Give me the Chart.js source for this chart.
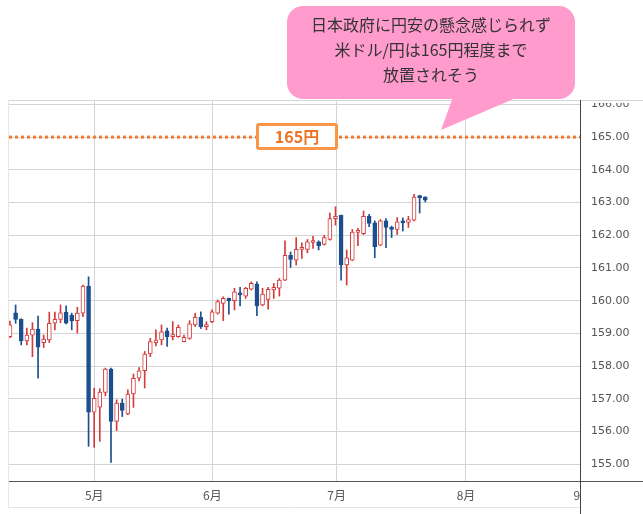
<!DOCTYPE html>
<html>
<head>
<meta charset="utf-8">
<script src="https://cdn.jsdelivr.net/npm/chart.js@4/dist/chart.umd.min.js"></script>
<style>
  html, body { margin: 0; padding: 0; background: #fff; }
  #wrap { position: relative; width: 643px; height: 514px; overflow: hidden; }
  #c { position: absolute; left: 0; top: 0; }
  #bubble { position: absolute; left: 0; top: 0; }
  #bubbleText {
    position: absolute; left: 287px; top: 12px; width: 288px;
    text-align: center; font-family: "Noto Sans CJK JP", sans-serif;
    font-size: 16px; line-height: 25px; color: #333;
  }
  #tag {
    position: absolute; left: 256px; top: 123px; width: 82px; height: 27px;
    box-sizing: border-box; border: 3px solid #f79646; border-radius: 3px;
    background: #fff; color: #ec7424; font-family: "Noto Sans CJK JP", sans-serif;
    font-weight: bold; font-size: 16px; line-height: 20px; text-align: center;
  }
</style>
</head>
<body>
<div id="wrap">
  <canvas id="c" width="643" height="514"></canvas>
  <svg id="bubble" width="643" height="514">
    <rect x="287" y="6" width="288" height="93" rx="16" ry="16" fill="#ff9bcd"/>
    <polygon points="453,97 441,130 518,97" fill="#ff9bcd"/>
  </svg>
  <div id="bubbleText">日本政府に円安の懸念感じられず<br>米ドル/円は165円程度まで<br>放置されそう</div>
  <div id="tag">165円</div>
</div>
<script>
// ---- data (USD/JPY daily candles) ----
const opens  = [158.90,159.63,159.43,158.77,158.95,159.13,158.72,158.80,159.31,159.43,159.65,159.56,159.39,159.62,160.45,
                156.59,156.75,157.20,157.91,156.31,156.87,156.54,157.15,157.63,157.86,158.37,158.72,158.80,159.08,158.90,
                158.90,158.75,158.85,159.26,159.49,159.21,159.36,159.62,159.92,160.07,160.00,160.20,160.14,160.35,160.51,
                159.87,160.04,160.33,160.38,160.63,161.39,161.24,161.57,161.57,161.78,161.80,161.72,161.87,162.51,162.61,
                161.09,161.24,162.09,162.05,162.58,162.38,161.70,162.44,162.24,162.18,162.41,162.39,162.46,163.17,163.17];
const highs  = [159.38,159.87,159.45,159.16,159.33,159.53,158.95,159.65,159.65,159.87,159.84,159.62,159.80,160.48,160.73,
                157.33,157.31,157.94,157.94,156.97,156.99,157.28,157.76,157.96,158.45,158.85,159.11,159.26,159.16,159.36,
                159.26,158.95,159.39,159.62,159.66,159.36,159.72,160.02,160.12,160.08,160.38,160.41,160.41,160.58,160.58,
                160.38,160.41,160.53,160.68,161.83,161.49,161.93,161.77,161.87,161.97,161.83,162.00,162.68,162.87,162.62,
                161.55,162.18,162.21,162.74,162.64,162.44,162.48,162.51,162.28,162.54,162.53,162.58,163.25,163.22,163.18];
const lows   = [158.87,159.31,158.65,158.65,158.29,157.63,158.57,158.72,159.11,159.33,159.29,159.11,159.01,159.51,155.55,
                155.52,155.70,157.09,155.06,156.03,156.46,156.52,156.74,157.55,157.33,158.29,158.62,158.65,158.60,158.80,
                158.88,158.74,158.82,159.21,159.15,159.11,159.33,159.59,159.39,159.59,159.72,159.84,160.07,160.33,159.54,
                159.84,159.74,160.07,160.14,160.61,161.02,161.09,161.29,161.46,161.60,161.55,161.70,161.85,162.31,160.63,
                160.48,161.22,161.68,162.02,162.26,161.31,161.68,161.62,161.93,162.02,162.13,162.24,162.44,162.68,163.02];
const closes = [159.26,159.43,158.77,158.95,159.13,158.58,158.83,159.31,159.43,159.63,159.31,159.39,159.62,160.45,156.59,
                157.02,157.21,157.91,156.31,156.87,156.65,157.15,157.63,157.86,158.37,158.75,158.80,159.05,158.90,158.93,
                159.19,158.88,159.29,159.49,159.21,159.23,159.66,159.97,160.07,160.00,160.27,160.18,160.38,160.53,159.84,
                160.20,160.35,160.41,160.63,161.39,161.26,161.57,161.59,161.80,161.80,161.68,161.93,162.51,162.58,161.09,
                161.31,162.10,162.10,162.58,162.36,161.65,162.44,162.24,162.18,162.41,162.38,162.48,163.17,163.15,163.07];
const targetLevel = 165;
const monthTickValues = [15.02, 36.05, 58.2, 81.25, 101.0];
const monthTickLabels = ['5月', '6月', '7月', '8月', '9'];
const priceTicks = [155,156,157,158,159,160,161,162,163,164,165,166];

// ---- chart ----
const RED = '#d23c3c', BLUE = '#1b4f8f';
const up = opens.map((o, i) => closes[i] >= o);
const xMin = -0.178, xMax = 101.75;

const frame = {
  id: 'frame',
  afterDraw(chart) {
    const ctx = chart.ctx;
    ctx.save();
    ctx.fillStyle = '#fff';
    ctx.fillRect(0, 0, 643, 100);
    ctx.fillRect(582, 0, 61, 103);
    ctx.lineWidth = 1;
    ctx.strokeStyle = '#d6d6d6';
    ctx.beginPath(); ctx.moveTo(8, 100.5); ctx.lineTo(643, 100.5); ctx.stroke();
    ctx.strokeStyle = '#e6e6e6';
    ctx.beginPath(); ctx.moveTo(8.5, 100); ctx.lineTo(8.5, 508); ctx.stroke();
    ctx.beginPath(); ctx.moveTo(8, 507.5); ctx.lineTo(581, 507.5); ctx.stroke();
    ctx.strokeStyle = '#555';
    ctx.beginPath(); ctx.moveTo(9, 481.5); ctx.lineTo(643, 481.5); ctx.stroke();
    ctx.strokeStyle = '#444';
    ctx.beginPath(); ctx.moveTo(580.5, 100); ctx.lineTo(580.5, 514); ctx.stroke();
    ctx.restore();
  }
};

new Chart(document.getElementById('c'), {
  type: 'bar',
  data: {
    datasets: [
      {
        label: 'body',
        order: 0,
        grouped: false,
        data: opens.map((o, i) => ({ x: i, y: [o, closes[i]] })),
        backgroundColor: up.map(u => u ? '#ffffff' : BLUE),
        borderColor: up.map(u => u ? RED : BLUE),
        borderWidth: 1,
        borderSkipped: false,
        barThickness: 4,
        minBarLength: 2
      },
      {
        label: 'wick',
        order: 1,
        grouped: false,
        data: lows.map((l, i) => ({ x: i, y: [l, highs[i]] })),
        backgroundColor: up.map(u => u ? RED : BLUE),
        borderWidth: 0,
        barThickness: 1
      },
      {
        type: 'line',
        label: 'target',
        order: 2,
        data: [{ x: xMin, y: targetLevel }, { x: xMax, y: targetLevel }],
        borderColor: '#ed7d31',
        borderWidth: 3,
        borderDash: [3, 3],
        pointRadius: 0,
        fill: false
      }
    ]
  },
  options: {
    responsive: false,
    animation: false,
    events: [],
    layout: { padding: { left: 9, top: 100, right: 0, bottom: 0 } },
    plugins: { legend: { display: false }, tooltip: { enabled: false } },
    scales: {
      x: {
        type: 'linear',
        min: xMin,
        max: xMax,
        offset: false,
        afterBuildTicks: s => { s.ticks = monthTickValues.map(v => ({ value: v })); },
        afterFit: s => { s.height = 33; },
        border: { display: false },
        grid: {
          offset: false,
          color: c => (c.tick && c.tick.value === 101.0) ? 'rgba(0,0,0,0)' : '#d4d4d4',
          drawTicks: false
        },
        ticks: {
          autoSkip: false,
          maxRotation: 0,
          padding: 7,
          color: '#555',
          font: { family: '"Noto Sans CJK JP", sans-serif', size: 12 },
          callback: v => {
            const k = monthTickValues.indexOf(v);
            return k >= 0 ? monthTickLabels[k] : '';
          }
        }
      },
      y: {
        position: 'right',
        min: 154.49,
        max: 166.134,
        afterBuildTicks: s => { s.ticks = priceTicks.map(v => ({ value: v })); },
        afterFit: s => { s.width = 62; },
        border: { display: false },
        grid: { color: '#d4d4d4', drawTicks: false },
        ticks: {
          padding: 10,
          color: '#555',
          font: { family: '"DejaVu Sans", sans-serif', size: 11 },
          callback: v => Number(v).toFixed(2)
        }
      }
    }
  },
  plugins: [frame]
});
</script>
</body>
</html>
